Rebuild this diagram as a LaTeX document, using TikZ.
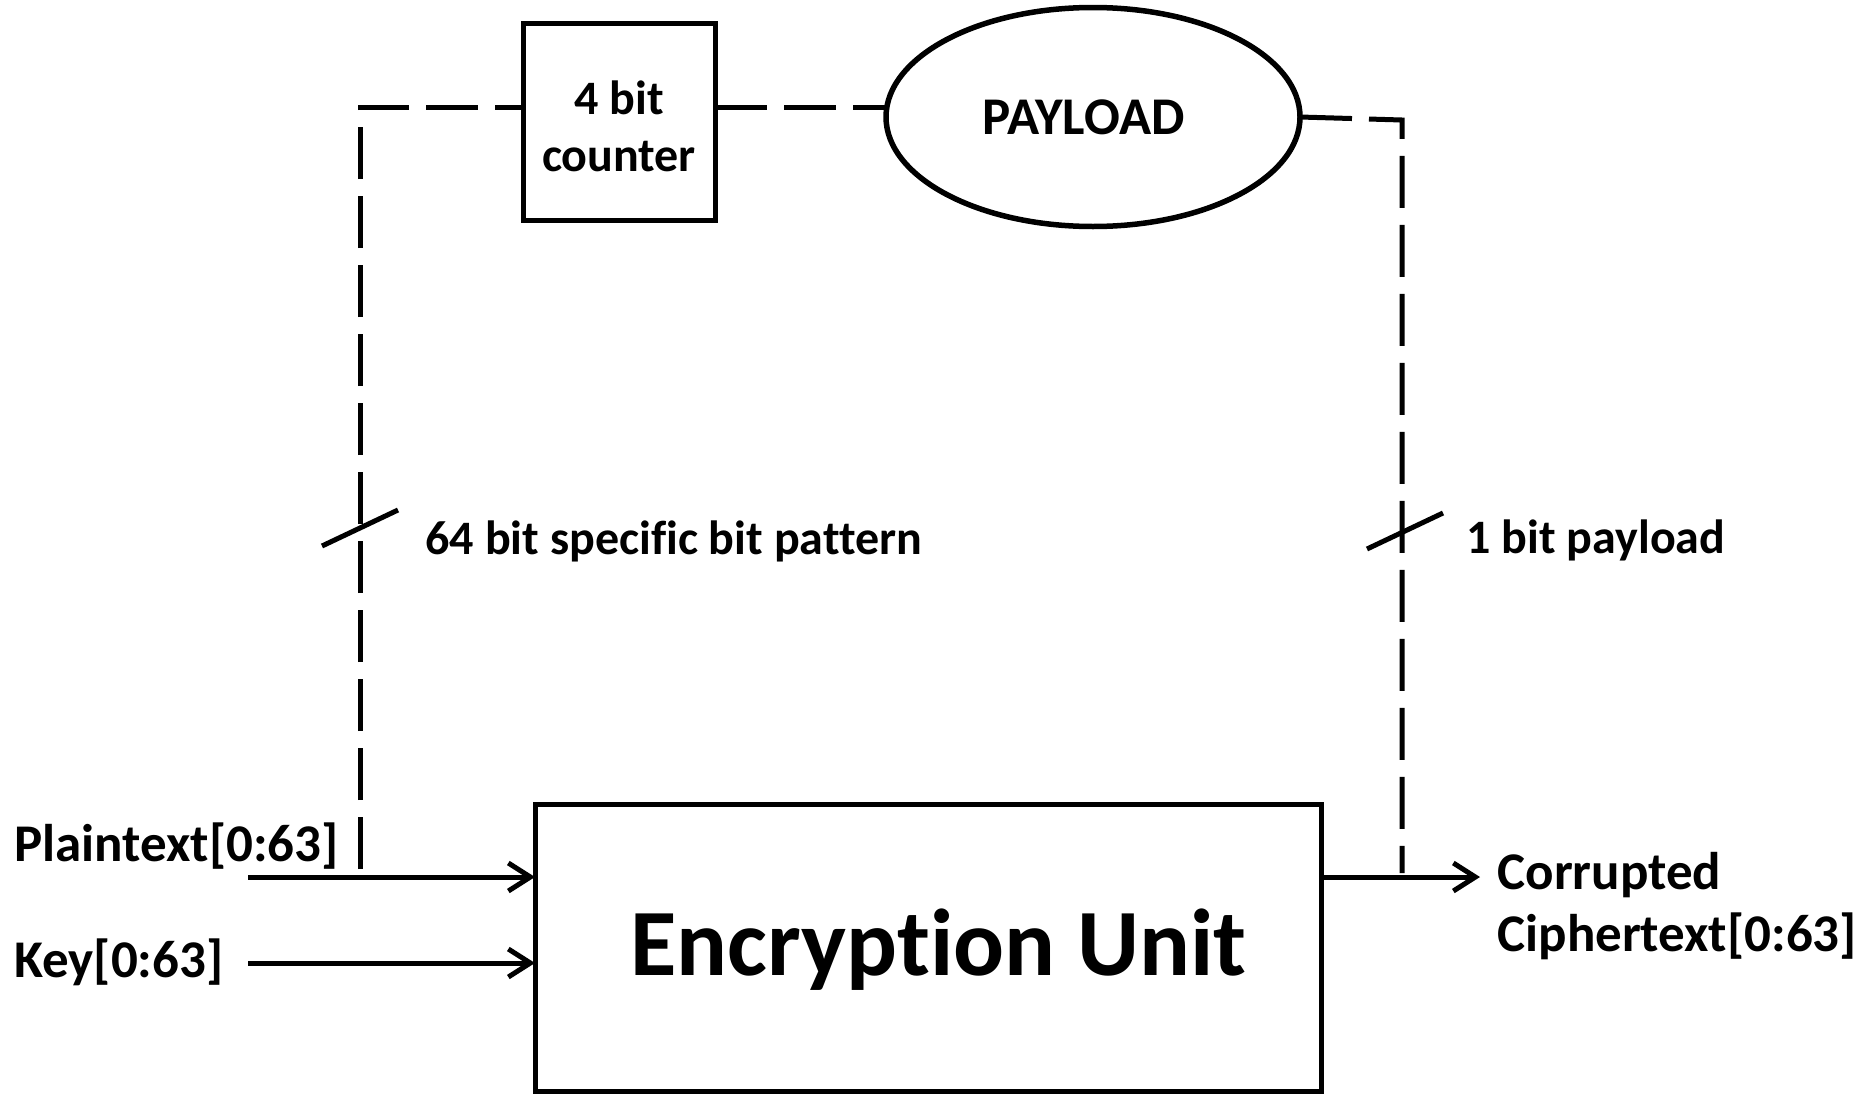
\documentclass[tikz,border=0pt]{standalone}
\usepackage{fontspec}
\setmainfont{Carlito}[Ligatures=NoCommon]
\usetikzlibrary{shapes.geometric,arrows.meta}
\begin{document}
\begin{tikzpicture}[x=1pt,y=-1pt,
  line width=5pt,
  blk/.style={draw, rectangle, inner sep=0pt, outer sep=0pt},
  dashline/.style={dash pattern=on 52pt off 17pt},
  sig/.style={-{Straight Barb[length=22pt,width=28pt]}},
  lbl/.style={font=\bfseries\fontsize{53}{60}\selectfont, inner sep=0pt, anchor=base west},
  small/.style={font=\bfseries\fontsize{48}{57}\selectfont, inner sep=0pt, anchor=base west},
]
\useasboundingbox (0,0) rectangle (1876,1095);

% blocks
\node[blk, minimum width=192pt, minimum height=197pt] (counter) at (619,121.5) {};
\node[align=center, inner sep=0pt, font=\bfseries\fontsize{48}{57}\selectfont] (ctrtxt) at (619,126) {4 bit\\counter};
\node[draw, ellipse, inner sep=0pt, outer sep=0pt,
      minimum width=414pt, minimum height=219pt, line width=5.5pt] (payload) at (1093,117) {};
\node[font=\bfseries\fontsize{53}{60}\selectfont, inner sep=0pt, anchor=base] (paytxt) at (1084,134) {PAYLOAD};
\node[blk, minimum width=786pt, minimum height=287pt] (enc) at (928,947.5) {};
\node[font=\bfseries\fontsize{95}{110}\selectfont, inner sep=0pt, anchor=base west] (enctxt) at (628,975) {Encryption Unit};

% labels
\node[lbl] (ptl) at (12,861) {Plaintext[0:63]};
\node[lbl] (keyl) at (12,977) {Key[0:63]};
\node[lbl] (cor) at (1495,889) {Corrupted};
\node[lbl] (cip) at (1495,951) {Ciphertext[0:63]};
\node[small] (pat) at (423,554) {64 bit specific bit pattern};
\node[small] (pay) at (1464,553) {1 bit payload};

% path corners and free ends
\coordinate (tl) at (360,107);
\coordinate (bl) at (360,869);
\coordinate (tr) at (1402,120);
\coordinate (br) at (1402,873);
\coordinate (pin) at (248,877);
\coordinate (kin) at (248,963);
\coordinate (cout) at (1480,877);
\coordinate (sl) at (360,528);
\coordinate (sr) at (1405,531);

% dashed trojan paths
\draw[dashline] (bl) -- (tl) -- (counter.west |- tl);
\draw[dashline] (counter.east |- tl) -- (payload.west |- tl);
\draw[dashline] (payload.east) -- (tr) -- (br);

% bus width slashes
\draw (sl) ++(-38,18) -- ++(76,-36);
\draw (sr) ++(-38,18) -- ++(76,-36);

% data signals
\draw[sig] (pin) -- (pin -| enc.west);
\draw[sig] (kin) -- (kin -| enc.west);
\draw[sig] (enc.east |- cout) -- (cout);
\end{tikzpicture}
\end{document}
